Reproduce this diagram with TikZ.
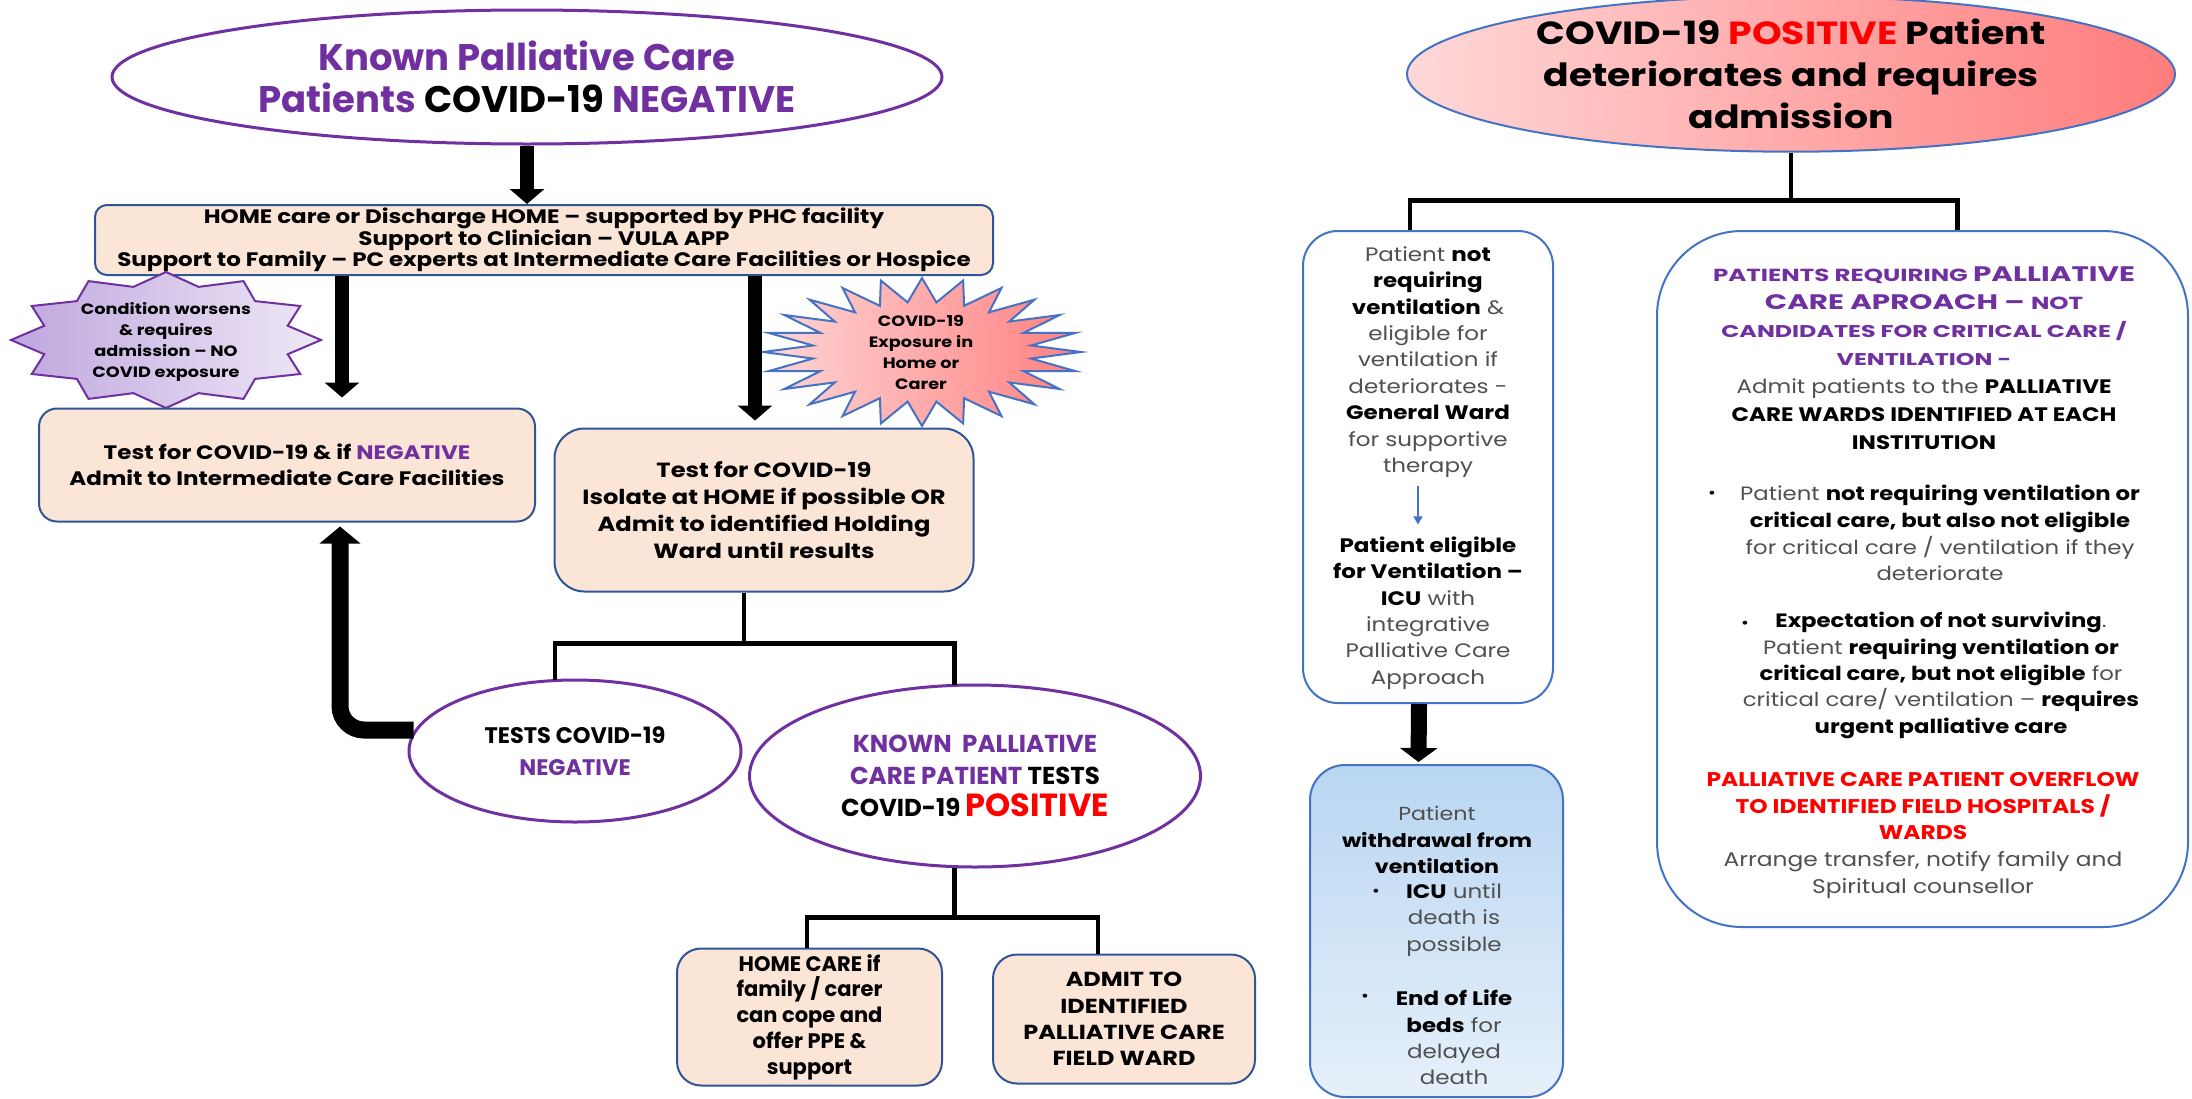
\documentclass[tikz,border=0pt]{standalone}
\usepackage{fontspec}
\setmainfont{Poppins}
\newfontfamily\fa{Poppins}
\newfontfamily\fb[FakeStretch=1.18]{Poppins}
\newfontfamily\fc[FakeStretch=1.4]{Poppins}
\usetikzlibrary{shapes.geometric,arrows.meta,calc}
\definecolor{pc}{HTML}{7030A0}
\definecolor{peach}{HTML}{FBE5D6}
\definecolor{bordb}{HTML}{2F5597}
\definecolor{bordr}{HTML}{4472C4}
\definecolor{gtxt}{HTML}{505050}
\definecolor{rd}{HTML}{FF0000}
\definecolor{arblue}{HTML}{4472C4}
\definecolor{s1l}{HTML}{BFA6DE}
\definecolor{s1r}{HTML}{EEE8F6}
\definecolor{s2l}{HTML}{FFD6D6}
\definecolor{s2r}{HTML}{FF8080}
\definecolor{e4l}{HTML}{FFD8D8}
\definecolor{e4r}{HTML}{FF7C7C}
\definecolor{r2t}{HTML}{B9D6F2}
\definecolor{r2b}{HTML}{E6F0FA}
\newcommand\blk[1]{{\bfseries\color{black}#1}}
\newcommand\pur[1]{{\color{pc}#1}}
\newcommand\redt[1]{{\color{rd}#1}}
\begin{document}
\begin{tikzpicture}[x=1pt,y=-1pt,
  peachbox/.style={draw=bordb, line width=2pt, fill=peach, inner sep=0pt, align=center},
  purell/.style={ellipse, draw=pc, line width=3pt, fill=white, inner sep=0pt, align=center},
  rbox/.style={draw=bordr, line width=2pt, inner sep=0pt},
  txt/.style={align=center, inner sep=0pt},
  tree/.style={line width=4.5pt, draw=black},
  blockar/.style={line width=14pt, draw=black, -{Triangle[width=34pt,length=15pt]}},
]
\fill[white] (0,0) rectangle (2192,1098);
\useasboundingbox (0,0) rectangle (2192,1098);

% ---------------- LEFT ----------------
\node[purell, minimum width=830pt, minimum height=134pt, text=pc,
      font=\fa\bfseries\fontsize{37}{42}\selectfont] (E1) at (527,77)
  {Known Palliative Care\\Patients \textcolor{black}{COVID-19} NEGATIVE};

\node[peachbox, rounded corners=12pt, minimum width=898pt, minimum height=70pt,
      font=\fb\bfseries\fontsize{19.5}{21.5}\selectfont] (B1) at (544,240)
  {HOME care or Discharge HOME – supported by PHC facility\\Support to Clinician – VULA APP\\Support to Family – PC experts at Intermediate Care Facilities or Hospice};

% purple 12-point star
\path[draw=pc, line width=2pt, left color=s1l, right color=s1r, shift={(166,340)}]
  (90:155pt and 68pt) \foreach \k in {0,...,11}{ -- ({90+\k*30+15}:126pt and 55pt) -- ({90+\k*30+30}:155pt and 68pt)} -- cycle;
\node[txt, font=\fb\bfseries\fontsize{15}{21}\selectfont] (S1) at (166,342)
  {Condition worsens\\\& requires\\admission – NO\\COVID exposure};

% red starburst
\path[draw=bordr, line width=2pt, left color=s2l, right color=s2r, shift={(922,352)}]
  (0:159pt and 74pt) \foreach \k in {0,...,23}{ -- ({\k*15+7.5}:110pt and 50pt) -- ({\k*15+15}:159pt and 74pt)} -- cycle;
\node[txt, font=\fb\bfseries\fontsize{15}{21}\selectfont] (S2) at (921,352)
  {COVID-19\\Exposure in\\Home or\\Carer};

\node[peachbox, rounded corners=18pt, minimum width=496pt, minimum height=113pt,
      font=\fb\bfseries\fontsize{19.5}{26}\selectfont] (B2) at (287,465)
  {Test for COVID-19 \& if \pur{NEGATIVE}\\Admit to Intermediate Care Facilities};

\node[peachbox, rounded corners=30pt, minimum width=419pt, minimum height=163pt,
      font=\fb\bfseries\fontsize{20.5}{27}\selectfont] (B3) at (764,510)
  {Test for COVID-19\\Isolate at HOME if possible OR\\Admit to identified Holding\\Ward until results};

\node[purell, minimum width=332pt, minimum height=142pt,
      font=\fa\bfseries\fontsize{22.5}{32}\selectfont] (E2) at (575,751)
  {TESTS COVID-19\\\pur{NEGATIVE}};

\node[purell, minimum width=451pt, minimum height=182pt,
      font=\fa\bfseries\fontsize{24.5}{32}\selectfont] (E3) at (975,776)
  {\pur{KNOWN\ \ PALLIATIVE}\\\pur{CARE PATIENT} TESTS\\COVID-19 {\color{rd}\fontsize{32}{32}\selectfont POSITIVE}};

\node[peachbox, rounded corners=24pt, minimum width=265pt, minimum height=137pt,
      font=\fa\bfseries\fontsize{21}{25.8}\selectfont] (B4) at (809.5,1017)
  {HOME CARE if\\family / carer\\can cope and\\offer PPE \&\\support};

\node[peachbox, rounded corners=24pt, minimum width=262pt, minimum height=129pt,
      font=\fb\bfseries\fontsize{20.3}{26.3}\selectfont] (B5) at (1124,1019)
  {ADMIT TO\\IDENTIFIED\\PALLIATIVE CARE\\FIELD WARD};

% arrows left
\draw[blockar] (E1.south) -- (E1.south |- B1.north);
\draw[blockar] ($(B1.south)+(-202,0)$) -- ($(B2.north)+(55,-10)$);
\draw[blockar] ($(B1.south)+(211,0)$) -- ($(B3.north)+(-9,-7)$);
\draw[blockar, line width=17pt, rounded corners=24pt, -{Triangle[width=40pt,length=17pt]}] ($(E2.west)+(6,-21)$) -| ($(B2.south)+(53,4)$);

% tree connectors left
\coordinate (t1) at ($(B3.south)+(-20,51)$);
\draw[tree] ($(B3.south)+(-20,0)$) -- (t1);
\draw[tree] ($(E2.north)+(-20,1)$) |- (t1) -| ($(E3.north)+(-20.5,1)$);
\coordinate (t2) at ($(E3.south)+(-20.5,49)$);
\draw[tree] ($(E3.south)+(-20.5,-1)$) -- (t2);
\draw[tree] ($(B4.north)+(-2.5,0)$) |- (t2) -| ($(B5.north)+(-26,0)$);

% ---------------- RIGHT ----------------
\node[ellipse, draw=bordr, line width=2pt, left color=e4l, right color=e4r,
      minimum width=768pt, minimum height=140pt, inner sep=0pt, align=center,
      font=\fb\bfseries\fontsize{32}{42}\selectfont] (E4) at (1791,74)
  {COVID-19 \redt{POSITIVE} Patient\\deteriorates and requires\\admission};

\node[rbox, fill=white, rounded corners=35pt, minimum width=250pt, minimum height=472pt] (R1) at (1428,467) {};
\node[rbox, top color=r2t, bottom color=r2b, rounded corners=35pt, minimum width=253pt, minimum height=332pt] (R2) at (1436.5,931) {};
\node[rbox, fill=white, rounded corners=85pt, minimum width=531pt, minimum height=696pt] (R3) at (1922.5,579) {};

\coordinate (t3) at ($(E4.south)+(0,48)$);
\draw[tree] (E4.south) -- (t3);
\draw[tree] ($(R1.north)+(-18,0)$) |- (t3) -| ($(R3.north)+(35,0)$);

\draw[blockar, line width=16pt, -{Triangle[width=37pt,length=14pt]}] ($(R1.south)+(-9,0)$) -- ($(R2.north)+(-18,-2)$);

% R1 texts
\node[txt, text=gtxt, font=\fb\fontsize{19.5}{26.4}\selectfont] (R1a) at (1428,362)
  {Patient \blk{not}\\\blk{requiring}\\\blk{ventilation} \&\\eligible for\\ventilation if\\deteriorates -\\\blk{General Ward}\\for supportive\\therapy};
\node[txt, text=gtxt, font=\fb\fontsize{19.5}{26.4}\selectfont] (R1b) at (1428,613)
  {\blk{Patient eligible}\\\blk{for Ventilation –}\\\blk{ICU} with\\integrative\\Palliative Care\\Approach};
\draw[arblue, line width=1.5pt, -{Triangle[width=9pt,length=8pt]}] ($(R1a.south)+(-10,8)$) -- ($(R1b.north)+(-10,-12)$);

% R2 texts
\node[txt, text=gtxt, font=\fb\fontsize{18.8}{26.4}\selectfont] (R2a) at (1437,840)
  {Patient\\\blk{withdrawal from}\\\blk{ventilation}};
\node[txt, font=\fb\fontsize{16}{20}\selectfont] (R2u1) at (1376,893) {•};
\node[txt, text=gtxt, font=\fb\fontsize{19.5}{26.4}\selectfont] (R2b) at (1454,920)
  {\blk{ICU} until\\death is\\possible};
\node[txt, font=\fb\fontsize{16}{20}\selectfont] (R2u2) at (1365,998) {•};
\node[txt, text=gtxt, font=\fb\fontsize{19.5}{26.4}\selectfont] (R2c) at (1454,1037.5)
  {\blk{End of Life}\\\blk{beds} for\\delayed\\death};

% R3 texts
\node[txt, text=gtxt, font=\fb\fontsize{19.5}{28}\selectfont] (R3a) at (1924,358)
  {{\fc\bfseries\color{pc}\fontsize{17.5}{28}\selectfont PATIENTS REQUIRING \fontsize{21}{28}\selectfont PALLIATIVE}\\
   {\fc\bfseries\color{pc}\fontsize{21}{28}\selectfont CARE APROACH – \fontsize{17.5}{28}\selectfont NOT}\\
   {\fc\bfseries\color{pc}\fontsize{17}{28}\selectfont CANDIDATES FOR CRITICAL CARE /}\\
   {\fc\bfseries\color{pc}\fontsize{17}{28}\selectfont VENTILATION -}\\
   Admit patients to the \blk{PALLIATIVE}\\
   \blk{CARE WARDS IDENTIFIED AT EACH}\\
   \blk{INSTITUTION}};
\node[txt, font=\fb\fontsize{16}{20}\selectfont] (R3u1) at (1712,495) {•};
\node[txt, text=gtxt, font=\fb\fontsize{19.3}{26.7}\selectfont] (R3b) at (1940,533)
  {Patient \blk{not requiring ventilation or}\\\blk{critical care, but also not eligible}\\for critical care / ventilation if they\\deteriorate};
\node[txt, font=\fb\fontsize{16}{20}\selectfont] (R3u2) at (1745,625) {•};
\node[txt, text=gtxt, font=\fb\fontsize{19.3}{26.3}\selectfont] (R3c) at (1941,675.5)
  {\blk{Expectation of not surviving}.\\Patient \blk{requiring ventilation or}\\\blk{critical care, but not eligible} for\\critical care/ ventilation – \blk{requires}\\\blk{urgent palliative care}};
\node[txt, text=gtxt, font=\fb\fontsize{19.8}{26.8}\selectfont] (R3d) at (1923,835.5)
  {{\bfseries\color{rd}PALLIATIVE CARE PATIENT OVERFLOW}\\{\bfseries\color{rd}TO IDENTIFIED FIELD HOSPITALS /}\\{\bfseries\color{rd}WARDS}\\Arrange transfer, notify family and\\Spiritual counsellor};
\end{tikzpicture}
\end{document}
